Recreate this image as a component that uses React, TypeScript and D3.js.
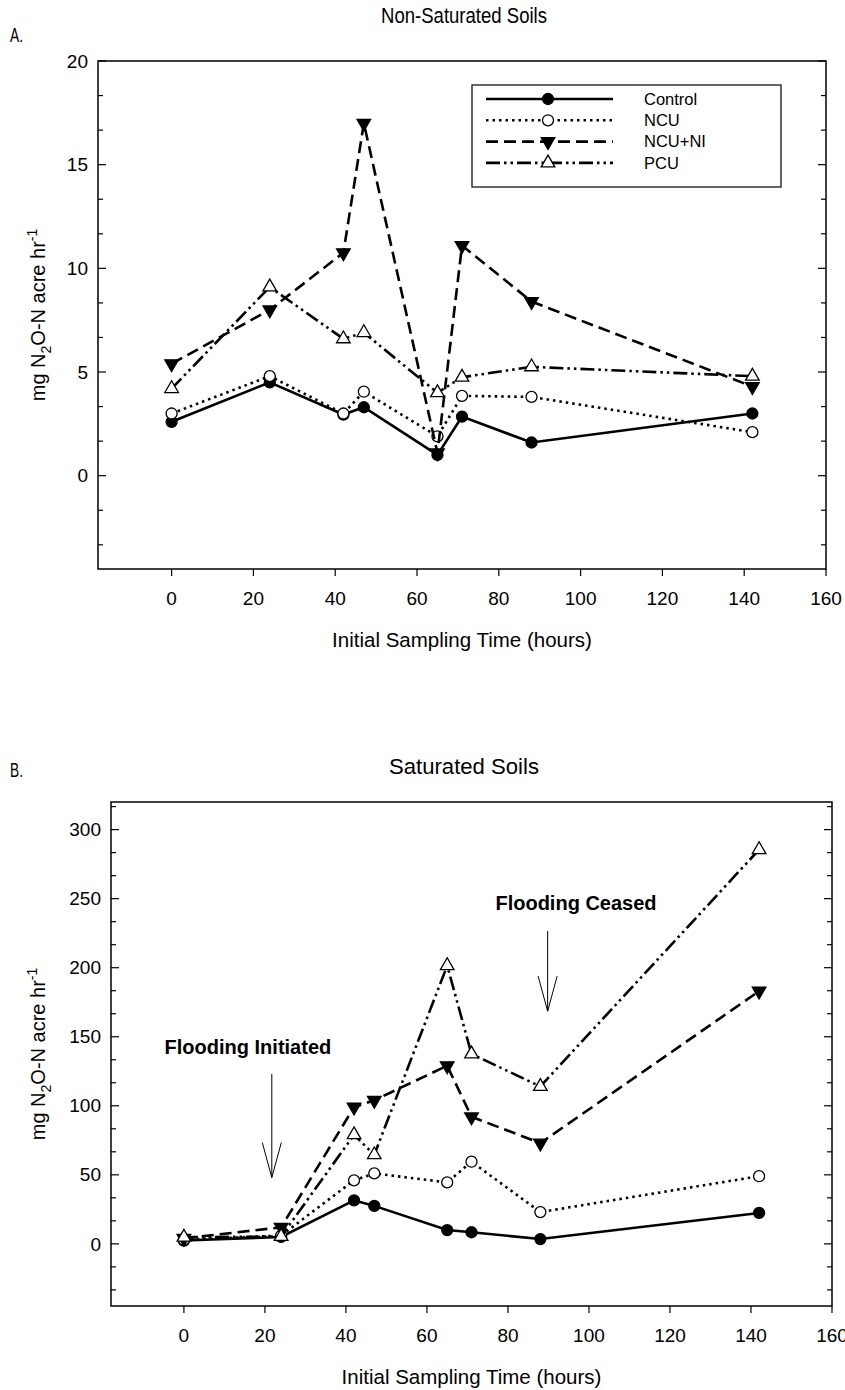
import React from "react";
import * as d3 from "d3";

// sampling times (hours)
const times = [0, 24, 42, 47, 65, 71, 88, 142];

// A. non-saturated soils
const aControl = [2.6, 4.5, 2.95, 3.3, 1.0, 2.85, 1.6, 3.0];
const aNCU = [3.0, 4.8, 3.0, 4.05, 1.9, 3.85, 3.8, 2.1];
const aNCUNI = [5.4, 8.0, 10.75, 17.0, 1.1, 11.1, 8.4, 4.3];
const aPCU = [4.2, 9.1, 6.6, 6.9, 4.0, 4.75, 5.25, 4.8];

// B. saturated soils
const bControl = [2.4, 5, 31.5, 27.5, 10, 8.4, 3.5, 22.4];
const bNCU = [3, 6, 46, 51, 44.5, 59.5, 23, 49];
const bNCUNI = [4, 12, 99, 104, 129, 92, 73, 183];
const bPCU = [4.8, 5.3, 79, 64.5, 201.5, 137.5, 114, 285.5];

const seriesNames = ["Control", "NCU", "NCU+NI", "PCU"];
const xTicks = [0, 20, 40, 60, 80, 100, 120, 140, 160];
const aYTicks = [0, 5, 10, 15, 20];
const bYTicks = [0, 50, 100, 150, 200, 250, 300];

const styles = [
  { dash: "none", marker: "circle", fill: "#000" },
  { dash: "2.5,4", marker: "circle", fill: "#fff" },
  { dash: "12,6", marker: "down", fill: "#000" },
  { dash: "14,4,2.5,4,2.5,4", marker: "up", fill: "#fff" },
];

const FONT = "Liberation Sans, Arial, sans-serif";

const Marker = ({ type, x, y, fill }) => {
  if (type === "circle") {
    return <circle cx={x} cy={y} r={5.5} fill={fill} stroke="#000" strokeWidth={1.3} />;
  }
  const path = d3.symbol().type(d3.symbolTriangle).size(80)();
  const rot = type === "down" ? 180 : 0;
  return (
    <path
      d={path}
      transform={`translate(${x},${y}) rotate(${rot})`}
      fill={fill}
      stroke="#000"
      strokeWidth={1.3}
    />
  );
};

const Panel = ({ box, yDomain, yTicks, data, title, titleLen, letter, titleY, letterY, legend, notes }) => {
  const x = d3.scaleLinear().domain([-18, 160]).range([box.left, box.right]);
  const y = d3.scaleLinear().domain(yDomain).range([box.bottom, box.top]);
  const step = yTicks[1] - yTicks[0];
  const minor = [];
  for (let v = yTicks[0] - 2 * step; v <= yDomain[1] + 0.001; v += step / 3) {
    if (v >= yDomain[0] && v <= yDomain[1]) minor.push(v);
  }
  const lineGen = d3
    .line()
    .x((d) => x(d[0]))
    .y((d) => y(d[1]));
  const cx = (box.left + box.right) / 2;
  const cy = (box.top + box.bottom) / 2;

  return (
    <g fontFamily={FONT}>
      <text x={10} y={letterY} dy="0.35em" fontSize={20} textLength={13} lengthAdjust="spacingAndGlyphs">{letter}</text>
      <text
        x={464}
        y={titleY}
        dy="0.35em"
        fontSize={22}
        textAnchor="middle"
        textLength={titleLen}
        lengthAdjust="spacingAndGlyphs"
      >
        {title}
      </text>
      <rect
        x={box.left}
        y={box.top}
        width={box.right - box.left}
        height={box.bottom - box.top}
        fill="none"
        stroke="#000"
        strokeWidth={1.5}
      />
      {minor.map((v, i) => {
        const major = yTicks.some((t) => Math.abs(t - v) < 1e-6);
        const len = major ? 8 : 5;
        return (
          <g key={"yt" + i}>
            <line x1={box.left} x2={box.left + len} y1={y(v)} y2={y(v)} stroke="#000" strokeWidth={1.2} />
            <line x1={box.right} x2={box.right - len} y1={y(v)} y2={y(v)} stroke="#000" strokeWidth={1.2} />
          </g>
        );
      })}
      {yTicks.map((t) => (
        <text key={"yl" + t} x={box.left - 10} y={y(t)} dy="0.35em" fontSize={19} textAnchor="end">
          {t}
        </text>
      ))}
      {xTicks.map((t) => (
        <g key={"xt" + t}>
          <line x1={x(t)} x2={x(t)} y1={box.bottom} y2={box.bottom + 7} stroke="#000" strokeWidth={1.2} />
          <text x={x(t)} y={box.bottom + 29} dy="0.35em" fontSize={19} textAnchor="middle">
            {t}
          </text>
        </g>
      ))}
      <text x={cx} y={box.bottom + 71} dy="0.35em" fontSize={20.5} textAnchor="middle">
        Initial Sampling Time (hours)
      </text>
      <text transform={`translate(38,${cy}) rotate(-90)`} fontSize={20} textAnchor="middle" dy="0.35em">
        mg N<tspan fontSize={14} dy={6}>2</tspan>
        <tspan dy={-6}>O-N acre hr</tspan>
        <tspan fontSize={14} dy={-8}>-1</tspan>
      </text>
      {notes &&
        notes.map((n) => (
          <g key={n.label}>
            <text x={x(n.tx)} y={y(n.ty)} dy="0.35em" fontSize={20} fontWeight="bold" textAnchor="middle">
              {n.label}
            </text>
            <line x1={x(n.ax)} x2={x(n.ax)} y1={y(n.top)} y2={y(n.tip)} stroke="#000" strokeWidth={1} />
            <path
              d={`M${x(n.ax) - 9.5},${y(n.tip) - 35} L${x(n.ax)},${y(n.tip)} L${x(n.ax) + 9.5},${y(n.tip) - 35}`}
              fill="none"
              stroke="#000"
              strokeWidth={1}
            />
          </g>
        ))}
      {data.map((vals, si) => (
        <g key={"s" + si}>
          <path
            d={lineGen(times.map((t, i) => [t, vals[i]]))}
            fill="none"
            stroke="#000"
            strokeWidth={2.6}
            strokeDasharray={styles[si].dash}
          />
          {times.map((t, i) => (
            <Marker key={i} type={styles[si].marker} x={x(t)} y={y(vals[i])} fill={styles[si].fill} />
          ))}
        </g>
      ))}
      {legend && (
        <g>
          <rect x={472} y={85} width={309} height={102} fill="#fff" stroke="#000" strokeWidth={1.2} />
          {seriesNames.map((name, i) => {
            const ly = 99 + i * 21.3;
            return (
              <g key={name}>
                <line x1={486} x2={613} y1={ly} y2={ly} stroke="#000" strokeWidth={2.6} strokeDasharray={styles[i].dash} />
                <Marker type={styles[i].marker} x={548} y={ly} fill={styles[i].fill} />
                <text x={644} y={ly} dy="0.35em" fontSize={16.5}>{name}</text>
              </g>
            );
          })}
        </g>
      )}
    </g>
  );
};

export default function App() {
  return (
    <svg width={845} height={1390} style={{ position: "absolute", left: 0, top: 0, background: "#fff" }}>
      <Panel
        box={{ left: 98, right: 826, top: 61, bottom: 569 }}
        yDomain={[-4.5, 20]}
        yTicks={aYTicks}
        data={[aControl, aNCU, aNCUNI, aPCU]}
        title="Non-Saturated Soils"
        titleLen={166}
        letter="A."
        titleY={15}
        letterY={35}
        legend
      />
      <Panel
        box={{ left: 111, right: 832, top: 802, bottom: 1306 }}
        yDomain={[-45, 320]}
        yTicks={bYTicks}
        data={[bControl, bNCU, bNCUNI, bPCU]}
        title="Saturated Soils"
        titleLen={150}
        letter="B."
        titleY={766}
        letterY={770}
        notes={[
          { label: "Flooding Initiated", tx: 15.8, ty: 142.5, ax: 21.7, top: 123, tip: 48 },
          { label: "Flooding Ceased", tx: 96.8, ty: 246.5, ax: 89.8, top: 226.5, tip: 168.5 },
        ]}
      />
    </svg>
  );
}
